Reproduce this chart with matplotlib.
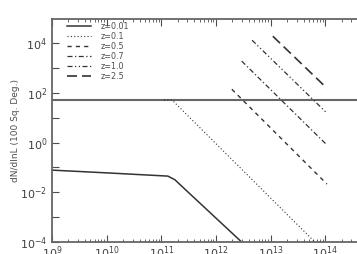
import matplotlib
matplotlib.use('Agg')
import matplotlib.pyplot as plt
from matplotlib.ticker import LogLocator, FuncFormatter, NullFormatter
import numpy as np

# values, as log10 exponents
labels = ['z=0.01', 'z=0.1', 'z=0.5', 'z=0.7', 'z=1.0', 'z=2.5']
logL = [
    [9.0, 10.0, 11.12, 11.25, 11.39, 12.47, 12.7],
    [11.05, 11.2, 13.81, 14.0],
    [12.29, 14.03],
    [12.47, 14.03],
    [12.66, 14.03],
    [13.04, 14.03],
]
logN = [
    [-1.11, -1.22, -1.35, -1.5, -1.79, -4.0, -4.5],
    [1.72, 1.70, -4.0, -4.4],
    [2.14, -1.67],
    [3.27, -0.10],
    [4.11, 1.18],
    [4.27, 2.18],
]
limit_level = 10**1.72
styles = ['-', (0, (1, 2)), (0, (3, 3)), (0, (4, 2, 1, 2)), (0, (4, 2, 1, 2, 1, 2)), (0, (6, 3))]
widths = [1.1, 0.8, 1.0, 0.9, 0.9, 1.2]

fig = plt.figure(figsize=(3.57, 2.54), dpi=100)
ax = fig.add_axes([0.1457, 0.047, 0.8543, 0.878])

ax.axhline(limit_level, color='0.4', lw=1.5)
for lx, ly, lab, ls, lw in zip(logL, logN, labels, styles, widths):
    ax.plot(10**np.array(lx), 10**np.array(ly), ls=ls, lw=lw, color='0.2', label=lab)

ax.set_xscale('log')
ax.set_yscale('log')
ax.set_xlim(1e9, 10**14.58)
ax.set_ylim(1e-4, 10**4.96)

ax.xaxis.set_major_locator(LogLocator(base=10, numticks=20))
ax.xaxis.set_minor_locator(LogLocator(base=10, subs=np.arange(2, 10), numticks=20))
ax.xaxis.set_minor_formatter(NullFormatter())
ax.yaxis.set_major_locator(LogLocator(base=10, subs=(1.0,), numticks=20))
ax.yaxis.set_minor_locator(plt.NullLocator())


def yfmt(v, pos):
    e = int(round(np.log10(v)))
    return f'$10^{{{e}}}$' if e % 2 == 0 else ''


ax.yaxis.set_major_formatter(FuncFormatter(yfmt))
ax.tick_params(which='both', direction='in', top=True, right=False, colors='0.3',
               labelcolor='0.25', labelsize=8)
ax.tick_params(which='major', length=5, width=0.8)
ax.tick_params(which='minor', length=2.5, width=0.6)
ax.tick_params(axis='x', pad=2)

for s in ['left', 'bottom', 'top']:
    ax.spines[s].set_color('0.4')
    ax.spines[s].set_linewidth(1.3)
ax.spines['right'].set_visible(False)

ax.set_ylabel('dN/dlnL (100 Sq. Deg.)', fontsize=6.5, color='0.3', labelpad=0)

leg = ax.legend(loc='upper left', fontsize=5.8, frameon=False, handlelength=2.9,
                labelspacing=0.12, borderaxespad=0.1, handletextpad=1.2,
                borderpad=0.3, bbox_to_anchor=(0.04, 1.0))
for t in leg.get_texts():
    t.set_color('0.3')

fig.savefig('out.png', dpi=100)
